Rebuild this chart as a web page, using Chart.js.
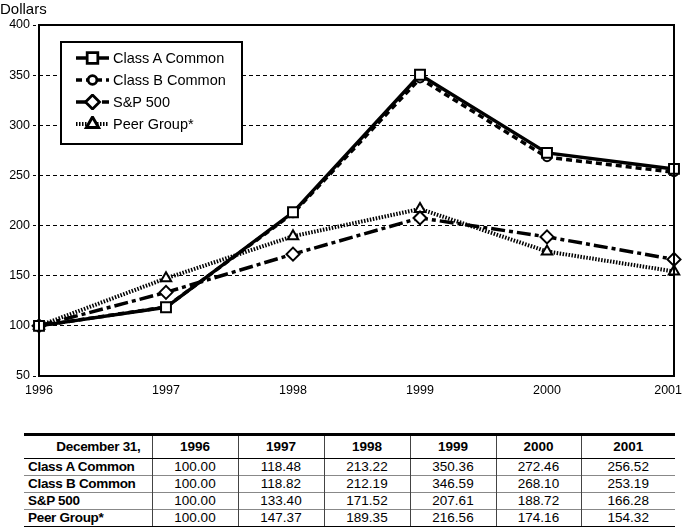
<!DOCTYPE html>
<html>
<head>
<meta charset="utf-8">
<script src="https://cdn.jsdelivr.net/npm/chart.js@4"></script>
<style>
  body { margin: 0; background: #fff; font-family: "Liberation Sans", Arial, sans-serif; }
  #wrap { position: relative; width: 682px; height: 527px; }
  #ytitle { position: absolute; left: 0; top: 0; font-size: 15px; color: #000; }
  #legend { position: absolute; left: 60px; top: 41px; width: 179px; height: 96px;
    border: 2px solid #000; background: #fff; padding-top: 4px; box-sizing: content-box; }
  #legend .row { height: 22px; display: flex; align-items: center; font-size: 14.5px; }
  #legend canvas { margin-left: 14px; margin-right: 4px; }
  #tbl { position: absolute; left: 24px; top: 433px; width: 651px; border-collapse: collapse; table-layout: fixed;
    font-size: 13.5px; border-top: 3px solid #000; border-bottom: 3px solid #000; }
  #tbl td, #tbl th { padding: 0; text-align: center; border-left: 1px solid #444; line-height: 16px; }
  #tbl tr td:first-child { border-left: none; text-align: left; padding-left: 4px; font-weight: bold; letter-spacing: -0.3px; }
  #tbl th { height: 22px; font-weight: bold; border-bottom: 1px solid #000; }
  #tbl tr th:first-child { border-left: none; text-align: right; padding-right: 11px; letter-spacing: -0.3px; }
  #tbl tr.sep td { border-top: 1px solid #888; }
</style>
</head>
<body>
<div id="wrap">
  <canvas id="myChart" width="682" height="400"></canvas>
  <div id="ytitle">Dollars</div>
  <div id="legend"></div>
  <table id="tbl"></table>
</div>
<script>
let years = ['1996', '1997', '1998', '1999', '2000', '2001'];
let classA = [100.00, 118.48, 213.22, 350.36, 272.46, 256.52];
let classB = [100.00, 118.82, 212.19, 346.59, 268.10, 253.19];
let sp500 = [100.00, 133.40, 171.52, 207.61, 188.72, 166.28];
let peer = [100.00, 147.37, 189.35, 216.56, 174.16, 154.32];
let names = ['Class A Common', 'Class B Common', 'S&P 500', 'Peer Group*'];
let yTicks = [50, 100, 150, 200, 250, 300, 350, 400];

let frame = {
  id: 'frame',
  beforeDraw(chart) {
    // keep the last year label inside the canvas
    let items = chart.scales.x.getLabelItems(chart.chartArea);
    let last = items[items.length - 1];
    if (last) {
      last.options.textAlign = 'right';
      last.options.translation[0] = chart.width;
    }
  },
  afterDraw(chart) {
    let a = chart.chartArea, c = chart.ctx;
    c.save();
    c.strokeStyle = '#000';
    c.lineWidth = 2;
    c.strokeRect(a.left, a.top, a.right - a.left, a.bottom - a.top);
    c.restore();
  }
};

let ctx = document.getElementById('myChart').getContext('2d');
let myChart = new Chart(ctx, {
  type: 'line',
  data: {
    labels: years,
    datasets: [{
      label: names[0], data: classA,
      borderColor: '#000', borderWidth: 3.5,
      pointStyle: 'rect', pointRadius: 7, pointBorderWidth: 2,
      pointBackgroundColor: '#fff', pointBorderColor: '#000'
    }, {
      label: names[1], data: classB,
      borderColor: '#000', borderWidth: 3.5, borderDash: [6, 4],
      pointStyle: 'circle', pointRadius: 4, pointBorderWidth: 2,
      pointBackgroundColor: '#fff', pointBorderColor: '#000'
    }, {
      label: names[2], data: sp500,
      borderColor: '#000', borderWidth: 3.5, borderDash: [14, 4, 4, 4],
      pointStyle: 'rectRot', pointRadius: 6.5, pointBorderWidth: 2,
      pointBackgroundColor: '#fff', pointBorderColor: '#000'
    }, {
      label: names[3], data: peer,
      borderColor: '#000', borderWidth: 4, borderDash: [1.5, 1.5],
      pointStyle: 'triangle', pointRadius: 6, pointBorderWidth: 2,
      pointBackgroundColor: '#fff', pointBorderColor: '#000'
    }]
  },
  options: {
    responsive: false,
    animation: false,
    layout: { autoPadding: false, padding: { top: 25, right: 8, left: 0, bottom: 0 } },
    plugins: { legend: { display: false }, tooltip: { enabled: false } },
    scales: {
      x: {
        offset: false,
        afterFit: (s) => { s.height = 24; s.paddingLeft = 0; s.paddingRight = 0; },
        grid: { display: false, drawTicks: false },
        border: { display: false },
        ticks: { color: '#000', font: { family: 'Liberation Sans', size: 12.5 }, padding: 7, maxRotation: 0 }
      },
      y: {
        min: 50, max: 400,
        afterFit: (s) => { s.width = 39; s.paddingTop = 0; s.paddingBottom = 0; },
        afterBuildTicks: (s) => { s.ticks = yTicks.map(v => ({ value: v })); },
        border: { display: false, dash: [4, 3] },
        grid: {
          color: (c) => (c.tick && (c.tick.value === 50 || c.tick.value === 400)) ? 'rgba(0,0,0,0)' : '#000',
          tickColor: '#000', tickLength: 6, tickBorderDash: [3, 3], lineWidth: 1
        },
        ticks: { color: '#000', font: { family: 'Liberation Sans', size: 12.5 }, padding: 3 }
      }
    }
  },
  plugins: [frame]
});

// legend built from the datasets
let leg = document.getElementById('legend');
myChart.data.datasets.forEach((ds) => {
  let row = document.createElement('div');
  row.className = 'row';
  let cv = document.createElement('canvas');
  cv.width = 33; cv.height = 16;
  let g = cv.getContext('2d');
  g.strokeStyle = '#000';
  g.lineWidth = ds.borderWidth;
  g.setLineDash(ds.borderDash || []);
  g.beginPath(); g.moveTo(0, 8); g.lineTo(33, 8); g.stroke();
  g.setLineDash([]);
  Chart.helpers.drawPoint(g, {
    pointStyle: ds.pointStyle, radius: ds.pointRadius, borderWidth: ds.pointBorderWidth
  }, 16.5, 8);
  g.fillStyle = '#fff'; g.lineWidth = ds.pointBorderWidth;
  g.fill(); g.stroke();
  row.appendChild(cv);
  let t = document.createElement('span');
  t.textContent = ds.label;
  row.appendChild(t);
  leg.appendChild(row);
});

// data table
let tbl = document.getElementById('tbl');
let colW = [128, 86, 86, 86, 86, 85, 94];
let html = '<colgroup>' + colW.map(w => '<col style="width:' + w + 'px">').join('') + '</colgroup>';
html += '<tr><th>December 31,</th>' + years.map(y => '<th>' + y + '</th>').join('') + '</tr>';
[classA, classB, sp500, peer].forEach((vals, i) => {
  html += '<tr' + (i > 0 ? ' class="sep"' : '') + '><td>' + names[i].replace('&', '&amp;') + '</td>' +
    vals.map(v => '<td>' + v.toFixed(2) + '</td>').join('') + '</tr>';
});
tbl.innerHTML = html;
</script>
</body>
</html>
